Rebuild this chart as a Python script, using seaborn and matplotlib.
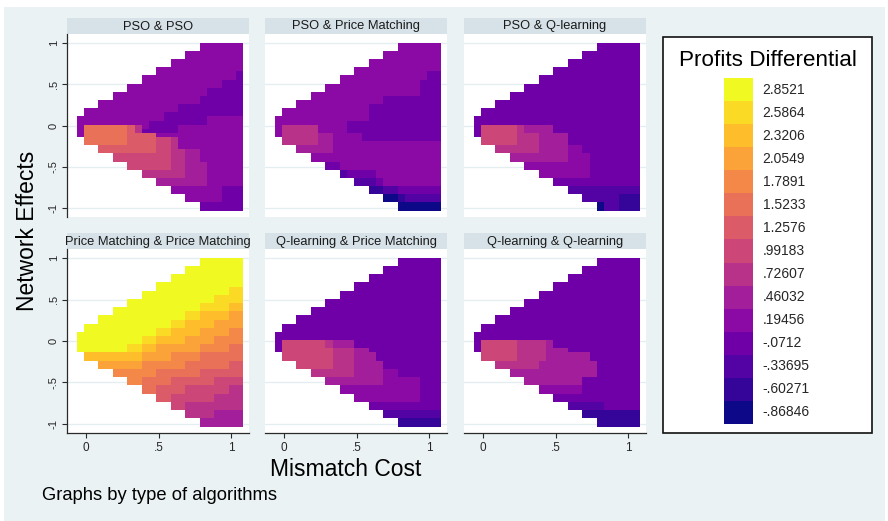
import numpy as np
import pandas as pd
import matplotlib
matplotlib.use("Agg")
import matplotlib.pyplot as plt
from matplotlib.colors import ListedColormap
from matplotlib.patches import Rectangle
import seaborn as sns

# legend cut points (bottom to top) and the code letter used for each in the grids
levels = [-.86846, -.60271, -.33695, -.0712, .19456, .46032, .72607, .99183,
          1.2576, 1.5233, 1.7891, 2.0549, 2.3206, 2.5864, 2.8521]
level_labels = ["-.86846", "-.60271", "-.33695", "-.0712", ".19456", ".46032",
                ".72607", ".99183", "1.2576", "1.5233", "1.7891", "2.0549",
                "2.3206", "2.5864", "2.8521"]
codes = "0123456789ABCDE"

# grid: 23 mismatch-cost columns, 41 network-effect rows (top row = +1)
x_lo, x_hi = -0.064, 1.086
y_hi, y_lo = 1.007, -1.036

panel_titles = ["PSO & PSO", "PSO & Price Matching", "PSO & Q-learning",
                "Price Matching & Price Matching", "Q-learning & Price Matching",
                "Q-learning & Q-learning"]

pso_pso = [
    ".................444444", ".................444444",
    "...............44444444", "...............44444444",
    ".............4444444444", ".............4444444444",
    "...........444444444444", "...........444444444443",
    ".........44444444444443", ".........44444444444333",
    ".......4444444444444333", ".......4444444444433333",
    ".....444444444444433333", ".....444444444444333333",
    "...44444444444444333333", "...44444444444333333333",
    ".4444444444444333333333", ".4444444444433333333333",
    "44444444444433333344444", "44444444443333333344444",
    "49999998643333444444444", "49999998633333444444444",
    "49999998888444444444444", ".9999998888776444444444",
    ".9999998888776444444444", "...88888888776444444444",
    "...88888888776655444444", ".....777777776655444444",
    ".....777777776655444444", ".......7777776655544444",
    ".......7777776655544444", ".........66666655544444",
    ".........66666655544444", "...........555555544444",
    "...........555555544444", ".............4444444333",
    ".............4444444333", "...............44444333",
    "...............44444333", ".................333333",
    ".................333333",
]

pso_pm = [
    ".................444444", ".................444444",
    "...............44444444", "...............44444444",
    ".............4444444444", ".............4444444444",
    "...........444444444444", "...........444444444433",
    ".........44444444444433", ".........44444444444333",
    ".......4444444444444333", ".......4444444444444333",
    ".....444444444444444333", ".....444444444433333333",
    "...44444444444433333333", "...44444444443333333333",
    ".4444444444443333333333", ".4444444444443333333333",
    "44444444444443333333333", "44444444443333333333333",
    "46666644443333333333333", "46666644443333333333333",
    "46666655444433333333333", ".6666655444433333333333",
    ".6666655444444444444444", "...55555444444444444444",
    "...55555444444444444444", ".....444444444444444444",
    ".....444444444444444444", ".......3344444444444444",
    ".......3344444444444444", ".........23333444444444",
    ".........23333444444444", "...........222344444444",
    "...........222344444444", ".............1122333333",
    ".............1122333333", "...............00122222",
    "...............00122222", ".................000000",
    ".................000000",
]

pso_q = [
    ".................333333", ".................333333",
    "...............33333333", "...............33333333",
    ".............3333333333", ".............3333333333",
    "...........333333333333", "...........333333333333",
    ".........33333333333333", ".........33333333333333",
    ".......3333333333333333", ".......3333333333333333",
    ".....333333333333333333", ".....333333333333333333",
    "...33333333333333333333", "...33333333333333333333",
    ".3333333333333333333333", ".3333333333333333333333",
    "33333333333333333333333", "33333333333333333333333",
    "37777765555333333333333", "37777765555333333333333",
    "37777766655553333333333", ".7777766655553333333333",
    ".7777766655553333333333", "...66666655554433333333",
    "...66666655554433333333", ".....555555554443333333",
    ".....555555554443333333", ".......4444444443333333",
    ".......4444444443333333", ".........44444443333333",
    ".........44444443333333", "...........333333333333",
    "...........333333333333", ".............2222222222",
    ".............2222222222", "...............22222111",
    "...............22222111", ".................022111",
    ".................022111",
]

pm_pm = [
    ".................EEEEEE", ".................EEEEEE",
    "...............EEEEEEEE", "...............EEEEEEEE",
    ".............EEEEEEEEEE", ".............EEEEEEEEEE",
    "...........EEEEEEEEEEEE", "...........EEEEEEEEEEDD",
    ".........EEEEEEEEEEEEDD", ".........EEEEEEEEEEDDDD",
    ".......EEEEEEEEEEEEDDDD", ".......EEEEEEEEEEDDDDCC",
    ".....EEEEEEEEEEEEDDDDCC", ".....EEEEEEEEEEDDCCCCBB",
    "...EEEEEEEEEEEEDDCCCCBB", "...EEEEEEEEEEDDCCCCBBBB",
    ".EEEEEEEEEEEEDDCCCCBBBB", ".EEEEEEEEEEDDCCCCBBBBAA",
    "EEEEEEEEEEEDDCCCCBBBBAA", "EEEEEEEEEDDCCCCBBBBAAAA",
    "EEEEEEEEEDDCCCCBBBBAAAA", "EEEEEEEDDCCBBBBBBAAAA99",
    "EEEEEEEDDCCBBBBBBAAAA99", ".CCCCCCCCBBBBAAAA999999",
    ".CCCCCCCCBBBBAAAA999999", "...BBBBBBAAAAAA99999988",
    "...BBBBBBAAAAAA99999988", ".....AAAAAA999999888888",
    ".....AAAAAA999999888888", ".......AA99998888887777",
    ".......AA99998888887777", ".........99888877777766",
    ".........99888877777766", "...........887777776666",
    "...........887777776666", ".............7766666666",
    ".............7766666666", "...............66665555",
    "...............66665555", ".................555555",
    ".................555555",
]

q_pm = pso_q[:20] + [
    "37777776555333333333333", "37777776555333333333333",
    "37777777666553333333333", ".7777777666555333333333",
    ".7777777666555333333333", "...77777666555533333333",
    "...77777666555533333333", ".....666666555544333333",
    ".....666666555544333333", ".......5555555544444333",
    ".......5555555544444333", ".........44444444444333",
    ".........44444444444333", "...........444444444333",
    "...........444444444333", ".............3333333333",
    ".............3333333333", "...............22222222",
    "...............22222222", ".................111111",
    ".................111111",
]

q_q = pso_q[:20] + [
    "37777766665333333333333", "37777766665333333333333",
    "37777766665553333333333", ".7777766665555553333333",
    ".7777766665555553333333", "...66666655555555333333",
    "...66666655555555333333", ".....555555555555333333",
    ".....555555555555333333", ".......5555555533333333",
    ".......5555555533333333", ".........44444433333333",
    ".........44444433333333", "...........333333333333",
    "...........333333333333", ".............2222233333",
    ".............2222233333", "...............11111111",
    "...............11111111", ".................111111",
    ".................111111",
]

grids = [pso_pso, pso_pm, pso_q, pm_pm, q_pm, q_q]


def to_frame(rows):
    for i, r in enumerate(rows):
        assert len(r) == 23, (i, r, len(r))
    vals = [[np.nan if c == "." else levels[codes.index(c)] for c in r] for r in rows]
    return pd.DataFrame(vals)


sns.set_theme(style="white")
plt.rcParams["font.family"] = ["Liberation Sans", "DejaVu Sans"]

W, H = 888, 521
bg = "#EAF2F3"
strip_col = "#D6E2E8"
grid_col = "#E4EDF0"
axis_col = "#2a2a2a"

colors = plt.get_cmap("plasma")(np.linspace(0, 1, len(levels)))
cmap = ListedColormap(colors)
step = levels[1] - levels[0]
vmin, vmax = levels[0] - step / 2, levels[-1] + step / 2

fig = plt.figure(figsize=(W / 100, H / 100), dpi=100)
fig.patches.append(Rectangle((4 / W, 0), 881 / W, 514 / H, transform=fig.transFigure,
                             facecolor=bg, edgecolor="none", zorder=-10))

ncol, nrow = 23, 41
dx = (x_hi - x_lo) / ncol
dy = (y_hi - y_lo) / nrow
xlim = (-0.131, 1.124)
ylim = (-1.113, 1.113)
xticks = [0, 0.5, 1]
yticks = [-1, -0.5, 0, 0.5, 1]
xtick_labels = ["0", ".5", "1"]
ytick_labels = ["-1", "-.5", "0", ".5", "1"]

lefts = [67, 265, 464]
tops = [34, 249]
heights = [183, 184]
pw = 182

for i, (rows, title) in enumerate(zip(grids, panel_titles)):
    r, c = divmod(i, 3)
    left, top, ph = lefts[c], tops[r], heights[r]
    ax = fig.add_axes([left / W, 1 - (top + ph) / H, pw / W, ph / H])
    ax.set_facecolor("white")
    sns.heatmap(to_frame(rows), ax=ax, cmap=cmap, vmin=vmin, vmax=vmax, cbar=False,
                xticklabels=False, yticklabels=False)
    ax.set_xlim((xlim[0] - x_lo) / dx, (xlim[1] - x_lo) / dx)
    ax.set_ylim((y_hi - ylim[0]) / dy, (y_hi - ylim[1]) / dy)
    for v in yticks:
        ax.axhline((y_hi - v) / dy, color=grid_col, lw=1.0, zorder=0)
    for s in ax.spines.values():
        s.set_visible(False)
    ax.tick_params(axis="both", which="both", length=0)
    if c == 0:
        ax.spines["left"].set_visible(True)
        ax.spines["left"].set_color(axis_col)
        ax.spines["left"].set_linewidth(0.9)
        ax.set_yticks([(y_hi - v) / dy for v in yticks])
        ax.set_yticklabels(ytick_labels, rotation=90, va="center", fontsize=8)
        ax.tick_params(axis="y", length=3.5, width=0.8, color=axis_col, pad=2.5, direction="out", left=True)
    if r == 1:
        ax.spines["bottom"].set_visible(True)
        ax.spines["bottom"].set_color(axis_col)
        ax.spines["bottom"].set_linewidth(0.9)
        ax.set_xticks([(v - x_lo) / dx for v in xticks])
        ax.set_xticklabels(xtick_labels, rotation=0, fontsize=8.5)
        ax.tick_params(axis="x", length=3.5, width=0.8, color=axis_col, pad=3, direction="out", bottom=True)
    # panel strip
    s_top = top - 16
    fig.patches.append(Rectangle((left / W, 1 - top / H), pw / W, 16 / H,
                                 transform=fig.transFigure, facecolor=strip_col,
                                 edgecolor="none", zorder=-5))
    fig.text((left + pw / 2) / W, 1 - (s_top + 8.5) / H, title, ha="center", va="center",
             fontsize=9.3, color="#1a1a1a")

# axis titles and note
fig.text(28 / W, 1 - 231 / H, "Network Effects", rotation=90, ha="center", va="center",
         fontsize=16.5, color="black")
fig.text(346 / W, 1 - 469 / H, "Mismatch Cost", ha="center", va="center",
         fontsize=16.5, color="black")
fig.text(42 / W, 1 - 495 / H, "Graphs by type of algorithms", ha="left", va="center",
         fontsize=13.2, color="black")

# legend box
fig.patches.append(Rectangle((663 / W, 1 - 433 / H), 209 / W, 396 / H,
                             transform=fig.transFigure, facecolor="white",
                             edgecolor="#111111", linewidth=1.2, zorder=-5))
fig.text(768 / W, 1 - 60 / H, "Profits Differential", ha="center", va="center",
         fontsize=16.2, color="black")
lax = fig.add_axes([724 / W, 1 - 424 / H, 29 / W, 346 / H])
sns.heatmap(pd.DataFrame({"v": levels[::-1]}), ax=lax, cmap=cmap, vmin=vmin, vmax=vmax,
            cbar=False, xticklabels=False, yticklabels=level_labels[::-1])
lax.yaxis.tick_right()
lax.tick_params(axis="y", length=0, pad=7, labelsize=10, labelrotation=0)
for lab in lax.get_yticklabels():
    lab.set_ha("left")
    lab.set_va("center")

fig.savefig("out.png", dpi=100, facecolor="white")
